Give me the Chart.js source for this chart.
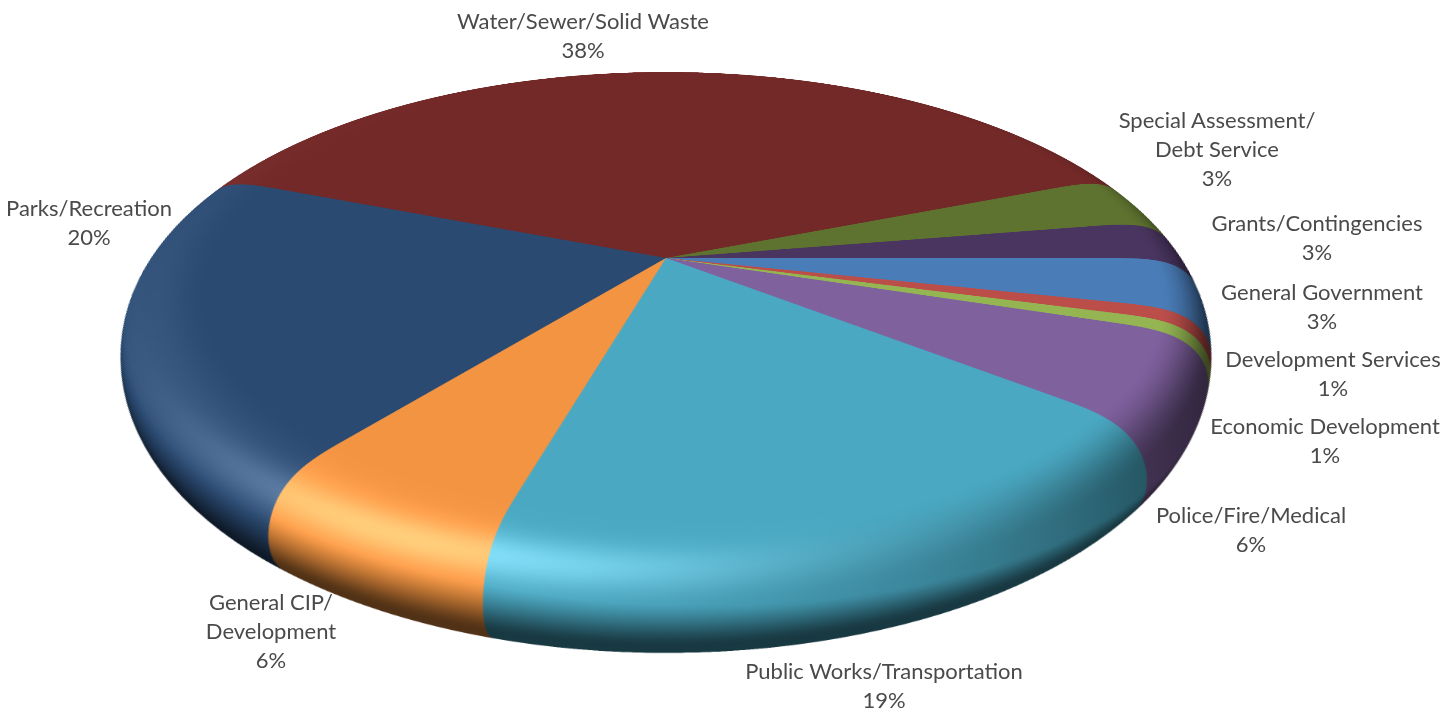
<!DOCTYPE html>
<html>
<head>
<meta charset="utf-8">
<script src="https://cdn.jsdelivr.net/npm/chart.js@4"></script>
<style>
html, body { margin: 0; background: #fff; overflow: hidden; width: 1456px; height: 709px; }
#pie { position: absolute; left: 0; top: 0; transform-origin: 0 0; }
.lbl { position: absolute; transform: translateX(-50%); text-align: center; white-space: pre;
       font: 22px/29px Lato, sans-serif; color: #4a4a4a; }
</style>
</head>
<body>
<canvas id="pie" width="1700" height="1700"></canvas>
<script>
// clockwise from 3 o'clock
const categories = ["General Government", "Development Services", "Economic Development", "Police/Fire/Medical",
    "Public Works/Transportation", "General CIP/Development", "Parks/Recreation", "Water/Sewer/Solid Waste",
    "Special Assessment/Debt Service", "Grants/Contingencies"];
const values = [3.4, 0.8, 0.7, 5.7, 18.8, 6.3, 20.2, 38, 3.4, 2.6];
const colors = [[74, 125, 184], [188, 78, 74], [148, 181, 82], [127, 97, 158], [74, 168, 194],
    [242, 148, 65], [42, 74, 114], [114, 41, 40], [95, 115, 48], [74, 53, 96]];

// label text, centre x, y of first line
const labelLines = [
    ["Water/Sewer/Solid Waste\n38%", 583, 6],
    ["Special Assessment/\nDebt Service\n3%", 1217, 105],
    ["Grants/Contingencies\n3%", 1317, 208],
    ["General Government\n3%", 1322, 277],
    ["Development Services\n1%", 1333, 344],
    ["Economic Development\n1%", 1325, 411],
    ["Police/Fire/Medical\n6%", 1251, 500],
    ["Public Works/Transportation\n19%", 884, 656],
    ["General CIP/\nDevelopment\n6%", 271, 587],
    ["Parks/Recreation\n20%", 89, 193]
];

labelLines.forEach(l => {
    const d = document.createElement("div");
    d.className = "lbl";
    d.textContent = l[0];
    d.style.left = l[1] + "px";
    d.style.top = l[2] + "px";
    document.body.appendChild(d);
});

// perspective of the pie plane: centre (665,258), back edge y=73, front y=530
const S = 1700, R = 500;
const hubX = 666, hubY = 258, backY = 73, frontY = 530, flatK = 486;
const c = (2 * hubY - backY - frontY) / (frontY - backY);
const a = hubY - backY + backY * c;
const tx = hubX - flatK * S / (2 * R) - hubX * c * S / (2 * R);
const ty = hubY - a * S / (2 * R);
const tw = 1 - c * S / (2 * R);
document.getElementById("pie").style.transform = "matrix3d(" + [
    flatK / R, 0, 0, 0,
    hubX * c / R, a / R, 0, c / R,
    0, 0, 1, 0,
    tx, ty, 0, tw].join(",") + ")";

// rounded edge: stack of discs under the flat face
const edgeLayers = 300, flatR = 0.9, edgeWide = 0.165, edgeDrop = 199, dropPow = 1.7;

function bump(x, mid, w) { return Math.exp(-((x - mid) / w) * ((x - mid) / w)); }
function ramp(x, lo, hi) { const t = Math.min(1, Math.max(0, (x - lo) / (hi - lo))); return t * t * (3 - 2 * t); }
function angDiff(a, b) { return Math.abs(((a - b + 540) % 360) - 180); }

function lightAt(phi, th) {
    const front = 0.22 * bump(angDiff(phi, 112), 0, 30) * bump(th, 70, 19);
    const left = 0.045 * bump(angDiff(phi, 160), 0, 45) * ramp(th, 10, 50) * (1 - ramp(th, 80, 105));
    return front + left;
}
function darkAt(phi, th) {
    const under = 0.66 * ramp(th, 88, 135);
    const right = 0.6 * bump(angDiff(phi, 15), 0, 50) * ramp(th, 35, 95);
    return Math.max(under, right);
}

function shaded(rgb, phi, th) {
    const keep = 1 - darkAt(phi, th), add = 255 * lightAt(phi, th);
    return "rgb(" + rgb.map(v => Math.min(255, Math.round(v * keep + add))).join(",") + ")";
}

const edgePlugin = {
    id: "edge",
    beforeDatasetsDraw(chart) {
        const ctx = chart.ctx, arcs = chart.getDatasetMeta(0).data;
        const cx = arcs[0].x, cy = arcs[0].y;
        for (let i = edgeLayers; i >= 1; i--) {
            const th = 180 * i / edgeLayers, rad = th * Math.PI / 180;
            const q = (1 - Math.cos(rad)) / 2;
            const s = 1 + (edgeWide / flatR) * Math.sin(rad), drop = edgeDrop * Math.pow(q, dropPow);
            ctx.save();
            ctx.translate(cx, cy + drop);
            ctx.scale(s, s);
            ctx.translate(-cx, -cy);
            arcs.forEach((arc, n) => {
                const g = ctx.createConicGradient(0, cx, cy);
                for (let k = 0; k <= 48; k++) g.addColorStop(k / 48, shaded(colors[n], k * 7.5, th));
                const layerArc = Object.create(arc);
                layerArc.options = Object.assign({}, arc.options, { backgroundColor: g });
                layerArc.draw(ctx);
            });
            ctx.restore();
        }
    }
};

new Chart("pie", {
    type: "pie",
    data: {
        labels: categories,
        datasets: [{ data: values, backgroundColor: colors.map(v => "rgb(" + v.join(",") + ")"), borderWidth: 0 }]
    },
    options: {
        responsive: false,
        animation: false,
        devicePixelRatio: 2,
        rotation: 90,
        layout: { padding: S / 2 - R * flatR },
        plugins: { legend: { display: false }, tooltip: { enabled: false } }
    },
    plugins: [edgePlugin]
});
</script>
</body>
</html>
